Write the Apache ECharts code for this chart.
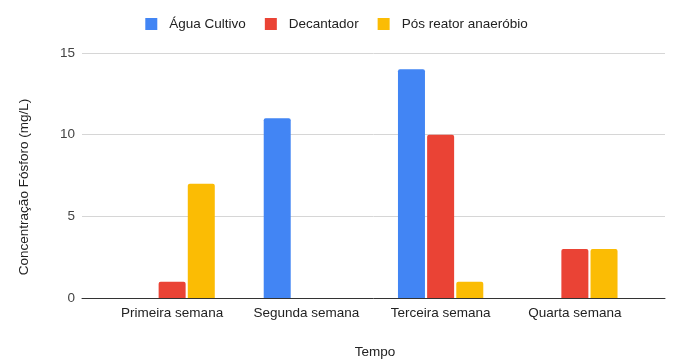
<!DOCTYPE html>
<html>
<head>
<meta charset="utf-8">
<script src="https://cdn.jsdelivr.net/npm/echarts@6/dist/echarts.min.js"></script>
<style>
  html, body { margin: 0; padding: 0; background: #fff; }
  #chart { width: 673px; height: 361px; }
</style>
</head>
<body>
<div id="chart"></div>
<script>
// Semanas de coleta
const categories = ['Primeira semana', 'Segunda semana', 'Terceira semana', 'Quarta semana'];
// Concentração de fósforo (mg/L) por ponto de coleta
const aguaCultivo = [0, 11, 14, 0];
const decantador = [1, 0, 10, 3];
const posReator = [7, 0, 1, 3];
const seriesNames = ['Água Cultivo', 'Decantador', 'Pós reator anaeróbio'];
const yTicks = [0, 5, 10, 15];

const FONT = '"Liberation Sans", Arial, sans-serif';
const FS = 13.5;
const colors = ['#4285F4', '#EA4335', '#FBBC04'];

const chart = echarts.init(document.getElementById('chart'), null, { renderer: 'canvas' });

function barSeries(name, data, color) {
  return {
    name: name,
    type: 'bar',
    xAxisIndex: 1,
    yAxisIndex: 1,
    data: data,
    barWidth: 27,
    barGap: '8%',
    itemStyle: { color: color, borderRadius: [2, 2, 0, 0] }
  };
}

chart.setOption({
  animation: false,
  backgroundColor: '#ffffff',
  color: colors,
  legend: {
    top: 12,
    left: 'center',
    itemWidth: 12,
    itemHeight: 12,
    itemGap: 19,
    icon: 'rect',
    data: seriesNames,
    textStyle: { fontFamily: FONT, fontSize: FS, color: '#222', padding: [0, 0, 0, 7] }
  },
  grid: [
    { left: 82, right: 8, top: 53, bottom: 63 },
    { left: 105, right: 31, top: 53, bottom: 63 }
  ],
  xAxis: [
    {
      gridIndex: 0, type: 'value', min: 0, max: 1,
      axisLine: { show: true, lineStyle: { color: '#333', width: 1 } },
      axisTick: { show: false }, axisLabel: { show: false }, splitLine: { show: false }
    },
    {
      gridIndex: 1, type: 'category', data: categories,
      axisLine: { show: false }, axisTick: { show: false },
      axisLabel: { interval: 0, hideOverlap: false, margin: 8, fontFamily: FONT, fontSize: FS, color: '#222' }
    }
  ],
  yAxis: [
    {
      gridIndex: 0, type: 'value', min: yTicks[0], max: yTicks[yTicks.length - 1], interval: 5,
      axisLine: { show: false }, axisTick: { show: false },
      axisLabel: { margin: 7, fontFamily: FONT, fontSize: FS, color: '#444' },
      splitLine: { lineStyle: { color: '#d6d6d6', width: 1 } }
    },
    {
      gridIndex: 1, type: 'value', min: yTicks[0], max: yTicks[yTicks.length - 1], interval: 5,
      show: false, splitLine: { show: false }
    }
  ],
  graphic: [
    {
      type: 'text', x: 24, y: 187, rotation: Math.PI / 2,
      style: {
        text: 'Concentração Fósforo (mg/L)', fontFamily: FONT, fontSize: FS,
        fill: '#222', textAlign: 'center', textVerticalAlign: 'middle'
      }
    },
    {
      type: 'text', x: 375, y: 352,
      style: {
        text: 'Tempo', fontFamily: FONT, fontSize: FS,
        fill: '#222', textAlign: 'center', textVerticalAlign: 'middle'
      }
    }
  ],
  series: [
    barSeries(seriesNames[0], aguaCultivo, colors[0]),
    barSeries(seriesNames[1], decantador, colors[1]),
    barSeries(seriesNames[2], posReator, colors[2])
  ]
});
</script>
</body>
</html>
